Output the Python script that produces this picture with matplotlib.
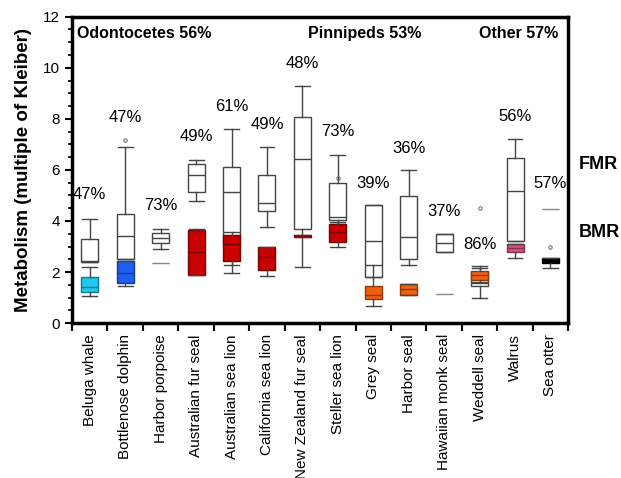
import matplotlib.pyplot as plt
from matplotlib.colors import to_rgb
from matplotlib.ticker import MultipleLocator

plt.rcParams['font.family'] = ['Liberation Sans', 'DejaVu Sans']

species = ['Beluga whale', 'Bottlenose dolphin', 'Harbor porpoise', 'Australian fur seal',
           'Australian sea lion', 'California sea lion', 'New Zealand fur seal',
           'Steller sea lion', 'Grey seal', 'Harbor seal', 'Hawaiian monk seal',
           'Weddell seal', 'Walrus', 'Sea otter']

# field metabolic rate (white boxes)
fmr_whislo = [2.40, 2.50, 2.90, 4.78, 1.97, 3.78, 2.18, 3.90, 1.80, 2.27, 2.78, 0.98, 3.23, 4.47]
fmr_q1 = [2.40, 2.50, 3.13, 5.14, 3.09, 4.40, 3.69, 4.04, 1.80, 2.53, 2.78, 1.47, 3.23, 4.47]
fmr_med = [2.43, 3.42, 3.33, 5.80, 5.14, 4.70, 6.44, 4.17, 3.23, 3.39, 3.13, 1.58, 5.18, 4.47]
fmr_q3 = [3.29, 4.28, 3.52, 6.23, 6.10, 5.80, 8.07, 5.50, 4.63, 4.98, 3.49, 2.00, 6.48, 4.47]
fmr_whishi = [4.08, 6.90, 3.68, 6.39, 7.59, 6.90, 9.30, 6.59, 4.63, 5.98, 3.49, 2.24, 7.20, 4.47]
fmr_fliers = [[], [7.17], [], [], [], [], [], [5.70], [], [], [], [4.50], [], []]

# basal metabolic rate (coloured boxes)
bmr_whislo = [1.07, 1.47, 2.37, 1.88, 2.27, 1.86, 3.38, 3.00, 0.68, 1.11, 1.16, 1.60, 2.57, 2.15]
bmr_q1 = [1.21, 1.57, 2.37, 1.90, 2.44, 2.09, 3.38, 3.16, 0.94, 1.11, 1.16, 1.67, 2.78, 2.37]
bmr_med = [1.41, 1.98, 2.37, 2.78, 3.09, 2.58, 3.42, 3.55, 1.11, 1.33, 1.16, 1.88, 2.95, 2.45]
bmr_q3 = [1.80, 2.45, 2.37, 3.65, 3.46, 2.97, 3.47, 3.89, 1.46, 1.53, 1.16, 2.05, 3.09, 2.54]
bmr_whishi = [2.18, 2.45, 2.37, 3.68, 3.56, 2.97, 3.47, 3.95, 2.27, 1.55, 1.16, 2.15, 3.09, 2.54]
bmr_fliers = [[], [], [], [], [], [], [], [], [], [], [], [], [], [2.97]]
bmr_colors = ['#22c8f0', '#1f5ff0', '#999999', '#c80000', '#c80000', '#c80000', '#c80000',
              '#c80000', '#f06010', '#f06010', '#999999', '#f06010', '#d8507f', '#000000']

pct_labels = ['47%', '47%', '73%', '49%', '61%', '49%', '48%', '73%', '39%', '36%', '37%', '86%', '56%', '57%']
pct_y = [5.02, 8.07, 4.59, 7.30, 8.50, 7.79, 10.18, 7.50, 5.45, 6.85, 4.37, 3.09, 8.09, 5.45]

groups = ['Odontocetes 56%', 'Pinnipeds 53%', 'Other 57%']
group_x = [0.15, 6.67, 11.49]

fig = plt.figure(figsize=(6.21, 4.78), dpi=100)
ax = fig.add_axes([0.116, 0.324, 0.799, 0.641])

pos = [i + 0.5 for i in range(len(species))]


def stats(lo, q1, med, q3, hi, fl):
    return [dict(whislo=a, q1=b, med=c, q3=d, whishi=e, fliers=f)
            for a, b, c, d, e, f in zip(lo, q1, med, q3, hi, fl)]


def thin_line(res, i):
    # a single value: draw it as one thin grey line
    for art in [res['boxes'][i], res['medians'][i]] + res['whiskers'][2*i:2*i+2] + res['caps'][2*i:2*i+2]:
        art.set_linewidth(0.8)
        if hasattr(art, 'set_edgecolor'):
            art.set_edgecolor('#8a8a8a')
            art.set_facecolor('none')
        else:
            art.set_color('#8a8a8a')


flier_style = dict(marker='o', markersize=2.5, markerfacecolor='none',
                   markeredgecolor='#666666', markeredgewidth=0.7)

fmr = stats(fmr_whislo, fmr_q1, fmr_med, fmr_q3, fmr_whishi, fmr_fliers)
res_f = ax.bxp(fmr, positions=pos, widths=0.48, patch_artist=True, showfliers=True,
               boxprops=dict(facecolor='white', edgecolor='#444444', linewidth=1),
               medianprops=dict(color='#444444', linewidth=1),
               whiskerprops=dict(color='#444444', linewidth=1),
               capprops=dict(color='#444444', linewidth=1),
               flierprops=flier_style, capwidths=0.42, zorder=2)

bmr = stats(bmr_whislo, bmr_q1, bmr_med, bmr_q3, bmr_whishi, bmr_fliers)
res_b = ax.bxp(bmr, positions=pos, widths=0.48, patch_artist=True, showfliers=True,
               whiskerprops=dict(color='#444444', linewidth=1),
               capprops=dict(color='#444444', linewidth=1),
               flierprops=flier_style, capwidths=0.42, zorder=3)
for i, (box, med, c) in enumerate(zip(res_b['boxes'], res_b['medians'], bmr_colors)):
    dark = tuple(v * 0.6 for v in to_rgb(c))
    box.set_facecolor(c)
    box.set_edgecolor(dark)
    box.set_linewidth(1)
    med.set_color(dark)
    med.set_linewidth(1)
    if c == '#999999':
        thin_line(res_b, i)

thin_line(res_f, 13)

for x, y, t in zip(pos, pct_y, pct_labels):
    ax.text(x, y, t, ha='center', va='center', fontsize=12)

for x, t in zip(group_x, groups):
    ax.text(x, 11.36, t, ha='left', va='center', fontsize=11.5, fontweight='bold')

ax.text(14.3, 6.2, 'FMR', ha='left', va='center', fontsize=13, fontweight='bold')
ax.text(14.3, 3.55, 'BMR', ha='left', va='center', fontsize=13, fontweight='bold')

ax.set_xlim(0, 14)
ax.set_ylim(0, 12)
ax.set_xticks(range(15))
ax.set_xticklabels([])
ax.set_xticks(pos, minor=True)
ax.set_xticklabels(species, minor=True, rotation=90, fontsize=11)
ax.tick_params(axis='x', which='major', direction='out', length=6, width=1.5)
ax.tick_params(axis='x', which='minor', length=0, pad=8)
ax.yaxis.set_major_locator(MultipleLocator(2))
ax.yaxis.set_minor_locator(MultipleLocator(0.5))
ax.tick_params(axis='y', which='major', direction='out', length=5, width=1.5, labelsize=11)
ax.tick_params(axis='y', which='minor', direction='out', length=3, width=1.2)
for s in ax.spines.values():
    s.set_linewidth(2.5)
ax.set_ylabel('Metabolism (multiple of Kleiber)', fontsize=13.5, fontweight='bold', labelpad=8)

fig.savefig('out.png', dpi=100)
